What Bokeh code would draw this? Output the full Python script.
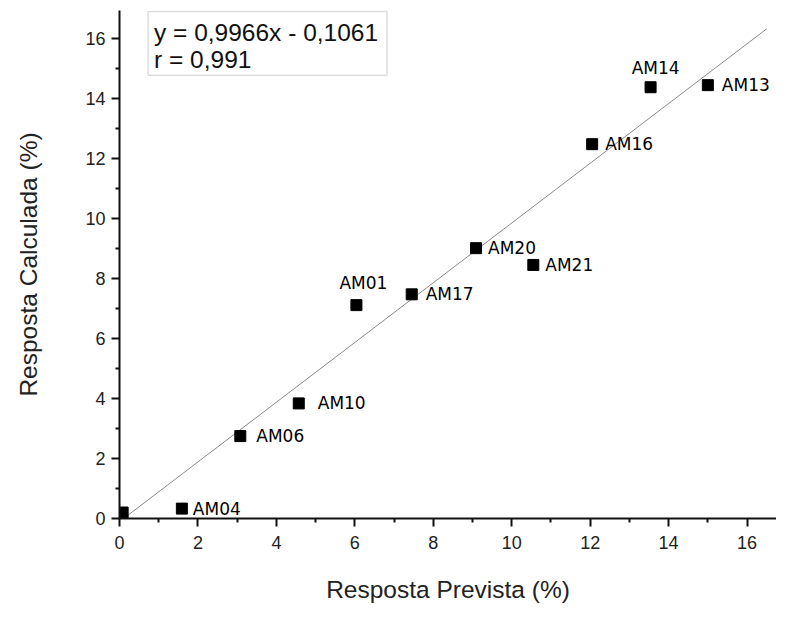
from bokeh.plotting import figure
from bokeh.models import ColumnDataSource, Range1d, LabelSet, Label, BoxAnnotation, FixedTicker
from bokeh.embed import file_html
from bokeh.resources import INLINE
from bokeh.core.properties import value

# data
names = ["", "AM04", "AM06", "AM10", "AM01", "AM17", "AM20", "AM21", "AM16", "AM14", "AM13"]
previsto = [0.08, 1.59, 3.08, 4.57, 6.04, 7.45, 9.09, 10.55, 12.05, 13.54, 15.0]
calculado = [0.2, 0.33, 2.75, 3.84, 7.12, 7.48, 9.02, 8.46, 12.49, 14.39, 14.46]
fit_slope = 0.9966
fit_intercept = -0.1061
fit_x = [0.106, 16.5]
eq_text = "y = 0,9966x - 0,1061"
r_text = "r = 0,991"
x_ticks = [0, 2, 4, 6, 8, 10, 12, 14, 16]
y_ticks = [0, 2, 4, 6, 8, 10, 12, 14, 16]

# label placement (style)
lab_dx = [0, 11, 16, 19, 7, 14, 12, 12, 13, 5, 14]
lab_dy = [0, 0, 0, 0, 22, 0, 0, 0, 0, 19, 0]
lab_align = ["left", "left", "left", "left", "center", "left", "left", "left", "left", "center", "left"]

W, H = 776, 605
p = figure(width=W, height=H, output_backend="svg", toolbar_location=None,
           x_range=Range1d(0, 16.75), y_range=Range1d(0, 16.95),
           min_border_left=119, min_border_right=0, min_border_top=10, min_border_bottom=40)
p.outline_line_color = None
p.grid.visible = False
p.background_fill_color = "white"

for ax in (p.xaxis[0], p.yaxis[0]):
    ax.axis_line_width = 2
    ax.axis_line_color = "#111111"
    ax.major_tick_line_width = 2
    ax.minor_tick_line_width = 2
    ax.major_tick_line_color = "#111111"
    ax.minor_tick_line_color = "#111111"
    ax.major_tick_out = 8
    ax.major_tick_in = 0
    ax.minor_tick_out = 4
    ax.minor_tick_in = 0
    ax.major_label_text_font = "Liberation Sans"
    ax.major_label_text_font_size = "18px"
    ax.major_label_text_color = "#222222"
    ax.axis_label_text_font = "Liberation Sans"
    ax.axis_label_text_font_size = "24.5px"
    ax.axis_label_text_font_style = "normal"
    ax.axis_label_text_color = "#222222"

p.xaxis.ticker = FixedTicker(ticks=x_ticks, minor_ticks=[v + 1 for v in x_ticks])
p.yaxis.ticker = FixedTicker(ticks=y_ticks, minor_ticks=[v + 1 for v in y_ticks])
p.xaxis.axis_label = "Resposta Prevista (%)"
p.yaxis.axis_label = "Resposta Calculada (%)"
p.xaxis.major_label_standoff = 9
p.yaxis.major_label_standoff = 6
p.xaxis.axis_label_standoff = 24
p.yaxis.axis_label_standoff = 40

fit_y = [fit_slope * x + fit_intercept for x in fit_x]
p.line(fit_x, fit_y, line_color="#8a8a8a", line_width=1)

src = ColumnDataSource(dict(x=previsto, y=calculado, name=names,
                            dx=lab_dx, dy=lab_dy, align=lab_align))
p.scatter("x", "y", source=src, marker="square", size=11, fill_color="black", line_color="black")

labels = LabelSet(x="x", y="y", text="name", source=src, x_offset="dx", y_offset="dy",
                  text_align="align", text_baseline="middle",
                  text_font=value("DejaVu Sans"), text_font_size=value("17px"), text_color="black")
p.add_layout(labels)

# equation box (annotation position in data units)
box = BoxAnnotation(left=0.73, right=6.82, top=16.92, bottom=14.79,
                    fill_color="white", fill_alpha=1, line_color="#8c8c8c", line_width=1.5)
p.add_layout(box)
p.add_layout(Label(x=0.88, y=16.23, text=eq_text,
                   text_font="Liberation Sans", text_font_size="24.5px",
                   text_baseline="middle", text_color="#111111"))
p.add_layout(Label(x=0.88, y=15.31, text=r_text,
                   text_font="Liberation Sans", text_font_size="24.5px",
                   text_baseline="middle", text_color="#111111"))

open("out.html", "w").write(file_html(p, INLINE))
